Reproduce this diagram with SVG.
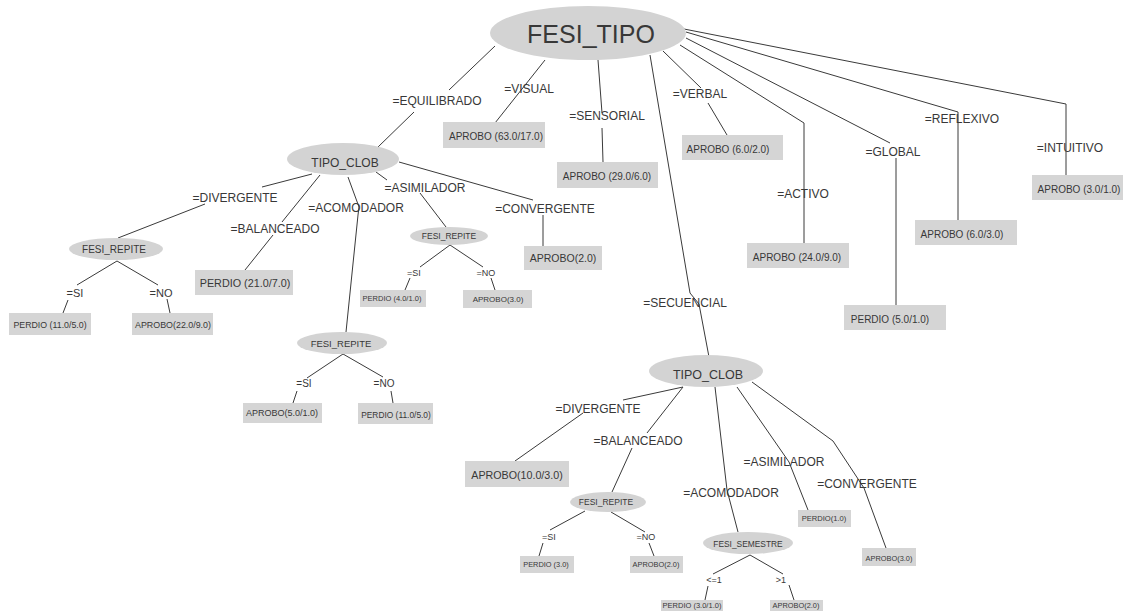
<svg xmlns="http://www.w3.org/2000/svg" width="1123" height="611" viewBox="0 0 1123 611">
<style>
  text { font-family: "Liberation Sans", Arial, sans-serif; fill: #383838; text-anchor: middle; }
  .node ellipse { fill: #d3d3d3; stroke: none; }
  .leaf rect { fill: #d5d5d5; stroke: none; }
  .edges path { fill: none; stroke: #3a3a3a; stroke-width: 1; }
  .lbl { font-size: 12px; }
</style>
<rect width="1123" height="611" fill="#ffffff"/>
<g class="edges" id="connectors">
  <!-- root -->
  <path d="M495,46 L449,90 M414,112 L378,147"/>
  <path d="M545,60 L495,123"/>
  <path d="M598,60 L602,113 M602,128 L603,162"/>
  <path d="M650,55 L690,293 L699,304 L709,357"/>
  <path d="M663,51 L701,88 M708,103 L727,135"/>
  <path d="M680,45 L804,123 L804,243"/>
  <path d="M686,38 L890,143 M896,158 L896,305"/>
  <path d="M686,32 L958,112 L958,220"/>
  <path d="M684,29 L1066,104 L1066,175"/>
  <!-- left TIPO_CLOB -->
  <path d="M312,174 L262,187 M205,204 L118,238"/>
  <path d="M320,175 L282,222 M273,235 L245,270"/>
  <path d="M348,177 L359,207 L358,215 L346,332"/>
  <path d="M376,172 L387,180 M420,193 L446,227"/>
  <path d="M399,162 L533,200 M543,215 L543,246"/>
  <!-- FESI_REPITE 1 -->
  <path d="M117,261 L77,285 M68,300 L63,313"/>
  <path d="M117,261 L158,285 M167,299 L170,313"/>
  <!-- FESI_REPITE 2 -->
  <path d="M343,354 L307,378 M297,391 L293,403"/>
  <path d="M343,354 L383,377 M391,391 L393,403"/>
  <!-- FESI_REPITE 3 -->
  <path d="M450,245 L420,267 M410,278 L405,290"/>
  <path d="M450,245 L483,267 M491,278 L495,290"/>
  <!-- right TIPO_CLOB -->
  <path d="M683,387 L623,400 M583,413 L515,461"/>
  <path d="M683,387 L647,433 M632,448 L612,492"/>
  <path d="M715,387 L727,490 L738,532"/>
  <path d="M737,387 L789,462 L808,510"/>
  <path d="M752,382 L833,441 L864,488 L886,548"/>
  <!-- FESI_REPITE 4 -->
  <path d="M585,511 L550,530 M543,543 L539,556"/>
  <path d="M611,512 L645,532 M649,543 L654,556"/>
  <!-- FESI_SEMESTRE -->
  <path d="M750,555 L713,574 M708,586 L705,600"/>
  <path d="M750,555 L783,574 M789,585 L794,600"/>
</g>
<g id="edge-labels">
  <text class="lbl" x="437" y="105">=EQUILIBRADO</text>
  <text class="lbl" x="529" y="93">=VISUAL</text>
  <text class="lbl" x="607" y="120">=SENSORIAL</text>
  <text class="lbl" x="685" y="307">=SECUENCIAL</text>
  <text class="lbl" x="700" y="98">=VERBAL</text>
  <text class="lbl" x="803" y="198">=ACTIVO</text>
  <text class="lbl" x="893" y="156">=GLOBAL</text>
  <text class="lbl" x="962" y="123">=REFLEXIVO</text>
  <text class="lbl" x="1070" y="152">=INTUITIVO</text>
  <text class="lbl" x="235" y="202">=DIVERGENTE</text>
  <text class="lbl" x="275" y="233">=BALANCEADO</text>
  <text class="lbl" x="356" y="212">=ACOMODADOR</text>
  <text class="lbl" x="425" y="192">=ASIMILADOR</text>
  <text class="lbl" x="545" y="213">=CONVERGENTE</text>
  <text x="75" y="297" font-size="11">=SI</text>
  <text x="161" y="297" font-size="11">=NO</text>
  <text x="304" y="387" font-size="10">=SI</text>
  <text x="384" y="387" font-size="10">=NO</text>
  <text x="414" y="276" font-size="9">=SI</text>
  <text x="486" y="276" font-size="9">=NO</text>
  <text class="lbl" x="598" y="413">=DIVERGENTE</text>
  <text class="lbl" x="638" y="445">=BALANCEADO</text>
  <text class="lbl" x="731" y="497">=ACOMODADOR</text>
  <text class="lbl" x="784" y="466">=ASIMILADOR</text>
  <text class="lbl" x="867" y="488">=CONVERGENTE</text>
  <text x="549" y="540" font-size="9">=SI</text>
  <text x="646" y="540" font-size="9">=NO</text>
  <text x="714" y="583" font-size="9">&lt;=1</text>
  <text x="781" y="583" font-size="9">&gt;1</text>
</g>
<g id="n-root" class="node"><ellipse cx="588" cy="33" rx="98" ry="27"/><text x="591" y="43" font-size="25">FESI_TIPO</text></g>
<g id="n-tipo-clob-1" class="node"><ellipse cx="343" cy="159" rx="56" ry="16"/><text x="345" y="167" font-size="12">TIPO_CLOB</text></g>
<g id="n-fesi-repite-1" class="node"><ellipse cx="116" cy="249" rx="47" ry="11"/><text x="114" y="253" font-size="10">FESI_REPITE</text></g>
<g id="n-fesi-repite-2" class="node"><ellipse cx="342" cy="343" rx="45" ry="11"/><text x="341" y="347" font-size="9.5">FESI_REPITE</text></g>
<g id="n-fesi-repite-3" class="node"><ellipse cx="449" cy="236" rx="39" ry="9"/><text x="449" y="239" font-size="8.5">FESI_REPITE</text></g>
<g id="n-tipo-clob-2" class="node"><ellipse cx="706" cy="371" rx="57" ry="16"/><text x="708" y="379" font-size="12.5">TIPO_CLOB</text></g>
<g id="n-fesi-repite-4" class="node"><ellipse cx="608" cy="502" rx="38" ry="10"/><text x="606" y="505" font-size="8.5">FESI_REPITE</text></g>
<g id="n-fesi-semestre" class="node"><ellipse cx="748" cy="543" rx="45" ry="11"/><text x="748" y="547" font-size="8.4">FESI_SEMESTRE</text></g>
<g id="l-visual" class="leaf"><rect x="443" y="122" width="102" height="26"/><text x="496" y="140" font-size="10">APROBO (63.0/17.0)</text></g>
<g id="l-sensorial" class="leaf"><rect x="557" y="162" width="101" height="26"/><text x="607" y="180" font-size="10">APROBO (29.0/6.0)</text></g>
<g id="l-verbal" class="leaf"><rect x="682" y="135" width="101" height="25"/><text x="728" y="153" font-size="10">APROBO (6.0/2.0)</text></g>
<g id="l-activo" class="leaf"><rect x="747" y="243" width="102" height="25"/><text x="797" y="261" font-size="10">APROBO (24.0/9.0)</text></g>
<g id="l-global" class="leaf"><rect x="844" y="305" width="102" height="25"/><text x="890" y="323" font-size="10">PERDIO (5.0/1.0)</text></g>
<g id="l-reflexivo" class="leaf"><rect x="915" y="220" width="102" height="25"/><text x="962" y="238" font-size="10">APROBO (6.0/3.0)</text></g>
<g id="l-intuitivo" class="leaf"><rect x="1032" y="175" width="91" height="25"/><text x="1079" y="193" font-size="10">APROBO (3.0/1.0)</text></g>
<g id="l-balanceado-1" class="leaf"><rect x="195" y="270" width="98" height="25"/><text x="245" y="287" font-size="10.8">PERDIO (21.0/7.0)</text></g>
<g id="l-div-si" class="leaf"><rect x="9" y="313" width="82" height="22"/><text x="50" y="328" font-size="8.8">PERDIO (11.0/5.0)</text></g>
<g id="l-div-no" class="leaf"><rect x="132" y="313" width="81" height="22"/><text x="173" y="328" font-size="8.9">APROBO(22.0/9.0)</text></g>
<g id="l-aco-si" class="leaf"><rect x="243" y="403" width="79" height="20"/><text x="282" y="416" font-size="9">APROBO(5.0/1.0)</text></g>
<g id="l-aco-no" class="leaf"><rect x="358" y="403" width="75" height="21"/><text x="396" y="418" font-size="8.4">PERDIO (11.0/5.0)</text></g>
<g id="l-asi-si" class="leaf"><rect x="360" y="290" width="66" height="17"/><text x="392" y="301" font-size="7.5">PERDIO (4.0/1.0)</text></g>
<g id="l-asi-no" class="leaf"><rect x="463" y="290" width="69" height="18"/><text x="498" y="302" font-size="8">APROBO(3.0)</text></g>
<g id="l-conv-1" class="leaf"><rect x="524" y="246" width="78" height="24"/><text x="563" y="262" font-size="10.5">APROBO(2.0)</text></g>
<g id="l-div-2" class="leaf"><rect x="465" y="461" width="104" height="26"/><text x="517" y="479" font-size="10.7">APROBO(10.0/3.0)</text></g>
<g id="l-bal-si" class="leaf"><rect x="520" y="556" width="54" height="17"/><text x="546" y="567" font-size="7.4">PERDIO (3.0)</text></g>
<g id="l-bal-no" class="leaf"><rect x="630" y="556" width="53" height="17"/><text x="656" y="567" font-size="7.4">APROBO(2.0)</text></g>
<g id="l-sem-le1" class="leaf"><rect x="661" y="600" width="62" height="14"/><text x="692" y="608" font-size="7.5">PERDIO (3.0/1.0)</text></g>
<g id="l-sem-gt1" class="leaf"><rect x="770" y="600" width="53" height="14"/><text x="796" y="608" font-size="7.4">APROBO(2.0)</text></g>
<g id="l-asi-2" class="leaf"><rect x="798" y="510" width="53" height="17"/><text x="824" y="521" font-size="7.6">PERDIO(1.0)</text></g>
<g id="l-conv-2" class="leaf"><rect x="862" y="548" width="54" height="18"/><text x="889" y="561" font-size="7.4">APROBO(3.0)</text></g>
</svg>
